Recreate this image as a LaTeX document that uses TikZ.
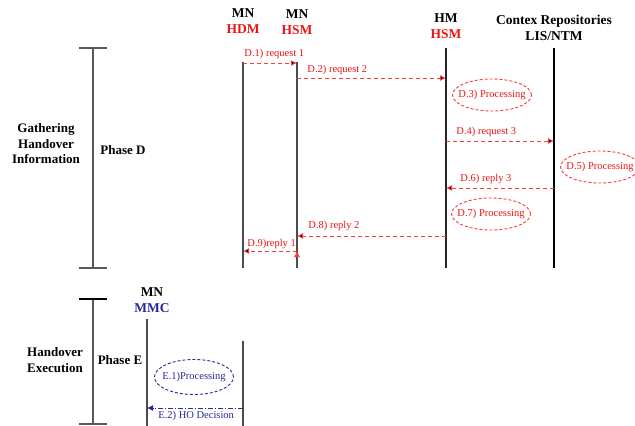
\documentclass[tikz,border=0pt]{standalone}
\usepackage{fontspec}
\setmainfont{Liberation Serif}
\usetikzlibrary{arrows.meta,shapes.geometric,positioning}

\definecolor{msgred}{RGB}{250,60,60}
\definecolor{hdred}{RGB}{235,20,20}
\definecolor{mmcblue}{RGB}{40,40,150}
\tikzset{
  head/.style={font=\bfseries\fontsize{13.5}{15.5}\selectfont, align=center, inner sep=0pt},
  side/.style={font=\bfseries\fontsize{13}{15.5}\selectfont, align=center, inner sep=0pt},
  life/.style={line width=1.6pt, draw=black!70},
  brk/.style={line width=1.6pt, draw=black!65},
  msg/.style={draw=msgred, line width=0.9pt, dash pattern=on 4pt off 3pt, -{Latex[length=6pt,width=6pt]}},
  lbl/.style={font=\fontsize{10.5}{11}\selectfont, text=hdred, inner sep=1pt},
  proc/.style={ellipse, draw=msgred, line width=0.9pt, dash pattern=on 3pt off 2pt, text=hdred,
    font=\fontsize{10.5}{11}\selectfont, inner xsep=-14pt, inner ysep=0pt, minimum width=79pt, minimum height=32pt},
}

\begin{document}
\begin{tikzpicture}[x=1pt,y=-1pt]
  \useasboundingbox (0,0) rectangle (635,426);
  \clip (0,0) rectangle (635,426);

  \node[head] (hdmh) at (243,21) {MN\\\textcolor{hdred}{HDM}};
  \node[head] (hsmh) at (297,22) {MN\\\textcolor{hdred}{HSM}};
  \node[head] (hmh) at (446,26) {HM\\\textcolor{hdred}{HSM}};
  \node[head] (reph) at (554,28) {Contex Repositories\\LIS/NTM};
  \node[head] (mmch) at (152,300) {MN\\\textcolor{mmcblue}{MMC}};

  \foreach \n/\x/\t/\b in {hdm/243/62/268, hsm/297/62/268, hm/446/48/268, rep/554/48/268,
                           mmc/147/319/426, mmcr/243/341/426}
    {\coordinate (\n-t) at (\x,\t); \coordinate (\n-b) at (\x,\b);}

  \draw[life] (hdm-t) -- (hdm-b);
  \draw[life] (hsm-t) -- (hsm-b);
  \draw[life, draw=black!85] (hm-t) -- (hm-b);
  \draw[life, draw=black, line width=2pt] (rep-t) -- (rep-b);
  \draw[life] (mmc-t) -- (mmc-b);
  \draw[life] (mmcr-t) -- (mmcr-b);

  \coordinate (pd-t) at (93,48);
  \coordinate (pd-b) at (93,268);
  \coordinate (pe-t) at (93,299);
  \coordinate (pe-b) at (93,424);
  \draw[brk] (pd-t) -- (pd-b);
  \draw[brk, line width=2.2pt] ([xshift=-14pt]pd-t) -- ([xshift=14pt]pd-t);
  \draw[brk, line width=2.2pt] ([xshift=-14pt]pd-b) -- ([xshift=14pt]pd-b);
  \draw[brk] (pe-t) -- (pe-b);
  \draw[brk, draw=black, line width=2.2pt] ([xshift=-14pt]pe-t) -- ([xshift=14pt]pe-t);
  \draw[brk, line width=2.2pt] ([xshift=-14pt]pe-b) -- ([xshift=14pt]pe-b);

  \node[side] (gather) at (46,144) {Gathering\\Handover\\Information};
  \node[side] (phd) at (123,150) {Phase D};
  \node[side] (exec) at (55,360) {Handover\\Execution};
  \node[side] (phe) at (120,360) {Phase E};

  \path[msg]
    (hdm-t |- 0,63) edge node[lbl, above right=3pt and 0pt, pos=0] {D.1) request 1} (hsm-t |- 0,63)
    (hsm-t |- 0,78) edge node[lbl, above right=2pt and 9pt, pos=0] {D.2) request 2} (hm-t |- 0,78)
    (hm-t |- 0,141) edge node[lbl, above right=3pt and 9pt, pos=0] {D.4) request 3} (rep-t |- 0,141)
    (rep-t |- 0,188) edge node[lbl, above right=3pt and 13pt, pos=1] {D.6) reply 3} (hm-t |- 0,188)
    (hm-t |- 0,236) edge node[lbl, above right=4pt and 10pt, pos=1] {D.8) reply 2} (hsm-t |- 0,236)
    (hsm-t |- 0,251) edge node[lbl, above right=1pt and 3pt, pos=1] {D.9)reply 1} (hdm-t |- 0,251);

  \node[proc] (d3) at (492,95) {D.3) Processing};
  \node[proc] (d5) at (600,167) {D.5) Processing};
  \node[proc] (d7) at (491,214) {D.7) Processing};
  \node[proc, draw=mmcblue, text=mmcblue, minimum height=35pt] (e1) at (194,377) {E.1)Processing};

  \draw[draw=mmcblue, line width=0.9pt, dash pattern=on 5pt off 2pt on 1pt off 2pt,
        -{Latex[length=6pt,width=6pt]}]
    (mmcr-t |- 0,408) -- node[lbl, text=mmcblue, below right=2pt and 10pt, pos=1] {E.2) HO Decision} (mmc-t |- 0,408);
\end{tikzpicture}
\end{document}
